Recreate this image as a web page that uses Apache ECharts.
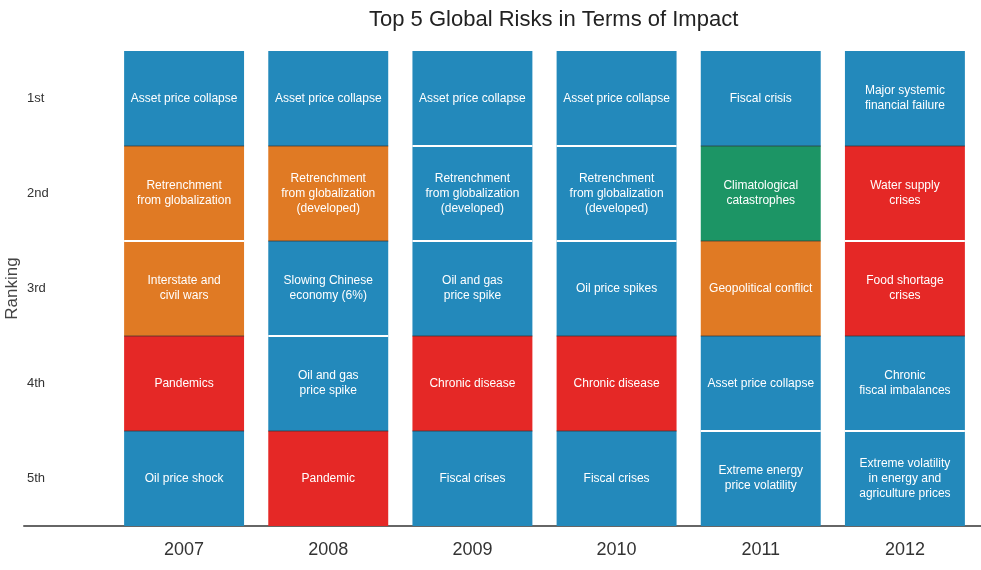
<!DOCTYPE html>
<html>
<head>
<meta charset="utf-8">
<script src="https://cdn.jsdelivr.net/npm/echarts@6/dist/echarts.min.js"></script>
<style>
html,body{margin:0;padding:0;background:#fff;}
#main{width:981px;height:570px;}
</style>
</head>
<body>
<div id="main"></div>
<script>
var years = ['2007', '2008', '2009', '2010', '2011', '2012'];
var ranks = ['1st', '2nd', '3rd', '4th', '5th'];

// top 5 risks per year, 1st -> 5th
var risks2007 = ['Asset price collapse', 'Retrenchment\nfrom globalization', 'Interstate and\ncivil wars', 'Pandemics', 'Oil price shock'];
var risks2008 = ['Asset price collapse', 'Retrenchment\nfrom globalization\n(developed)', 'Slowing Chinese\neconomy (6%)', 'Oil and gas\nprice spike', 'Pandemic'];
var risks2009 = ['Asset price collapse', 'Retrenchment\nfrom globalization\n(developed)', 'Oil and gas\nprice spike', 'Chronic disease', 'Fiscal crises'];
var risks2010 = ['Asset price collapse', 'Retrenchment\nfrom globalization\n(developed)', 'Oil price spikes', 'Chronic disease', 'Fiscal crises'];
var risks2011 = ['Fiscal crisis', 'Climatological\ncatastrophes', 'Geopolitical conflict', 'Asset price collapse', 'Extreme energy\nprice volatility'];
var risks2012 = ['Major systemic\nfinancial failure', 'Water supply\ncrises', 'Food shortage\ncrises', 'Chronic\nfiscal imbalances', 'Extreme volatility\nin energy and\nagriculture prices'];

// risk category per cell
var cats2007 = ['economic', 'geopolitical', 'geopolitical', 'societal', 'economic'];
var cats2008 = ['economic', 'geopolitical', 'economic', 'economic', 'societal'];
var cats2009 = ['economic', 'economic', 'economic', 'societal', 'economic'];
var cats2010 = ['economic', 'economic', 'economic', 'societal', 'economic'];
var cats2011 = ['economic', 'environmental', 'geopolitical', 'economic', 'economic'];
var cats2012 = ['economic', 'societal', 'societal', 'economic', 'economic'];

var catColors = {
    economic: '#2389bb',
    geopolitical: '#e07a24',
    societal: '#e52826',
    environmental: '#1c9565'
};

var allRisks = [risks2007, risks2008, risks2009, risks2010, risks2011, risks2012];
var allCats = [cats2007, cats2008, cats2009, cats2010, cats2011, cats2012];

var cells = [];
for (var i = 0; i < years.length; i++) {
    for (var r = 0; r < ranks.length; r++) {
        cells.push({
            value: [i, r],
            text: allRisks[i][r],
            cat: allCats[i][r],
            sameAsAbove: r > 0 && allCats[i][r - 1] == allCats[i][r]
        });
    }
}

var FONT = '"Liberation Sans", Arial, sans-serif';

var myChart = echarts.init(document.getElementById('main'));
var option = {
    backgroundColor: '#fff',
    animation: false,
    title: {
        text: 'Top 5 Global Risks in Terms of Impact',
        left: 364,
        top: 4,
        textStyle: {fontFamily: FONT, fontSize: 22, fontWeight: 'normal', color: '#222'}
    },
    grid: [
        {left: 112, right: 4, top: 51, bottom: 44, outerBoundsMode: 'none'},
        {left: 24, right: 0, top: 51, bottom: 44, outerBoundsMode: 'none'}
    ],
    xAxis: [
        {
            type: 'category', gridIndex: 0, data: years,
            axisLine: {show: false}, axisTick: {show: false},
            axisLabel: {fontFamily: FONT, fontSize: 18, color: '#333', margin: 15}
        },
        {
            type: 'value', gridIndex: 1, min: 0, max: 1,
            axisLine: {show: true, lineStyle: {color: '#666', width: 2}},
            axisTick: {show: false}, axisLabel: {show: false}, splitLine: {show: false}
        }
    ],
    yAxis: [
        {
            type: 'category', gridIndex: 0, data: ranks, inverse: true,
            name: 'Ranking', nameLocation: 'middle', nameGap: 91, nameRotate: 90,
            nameMoveOverlap: false,
            nameTextStyle: {fontFamily: FONT, fontSize: 17, color: '#444'},
            axisLine: {show: false}, axisTick: {show: false},
            axisLabel: {fontFamily: FONT, fontSize: 13, color: '#333', align: 'left', margin: 85}
        },
        {type: 'value', gridIndex: 1, show: false}
    ],
    series: [{
        type: 'custom',
        xAxisIndex: 0,
        yAxisIndex: 0,
        data: cells.map(function (c) { return c.value; }),
        renderItem: function (params, api) {
            var cell = cells[params.dataIndex];
            var c = api.coord([api.value(0), api.value(1)]);
            var band = api.size([1, 1]);
            var w = band[0] * 0.832;
            var h = band[1];
            var x0 = c[0] - w / 2;
            var y0 = c[1] - h / 2;
            var children = [{
                type: 'rect',
                shape: {x: x0, y: y0, width: w, height: h},
                style: {fill: catColors[cell.cat]}
            }];
            if (api.value(1) > 0) {
                children.push({
                    type: 'line',
                    shape: {x1: x0, y1: y0, x2: x0 + w, y2: y0},
                    style: cell.sameAsAbove ? {stroke: '#fff', lineWidth: 2} : {stroke: 'rgba(50,50,50,0.7)', lineWidth: 1}
                });
            }
            children.push({
                type: 'text',
                style: {
                    text: cell.text,
                    x: c[0], y: c[1],
                    fill: '#fff',
                    align: 'center',
                    verticalAlign: 'middle',
                    font: '12px ' + FONT,
                    lineHeight: 15
                }
            });
            return {type: 'group', children: children};
        }
    }]
};
myChart.setOption(option);
</script>
</body>
</html>
